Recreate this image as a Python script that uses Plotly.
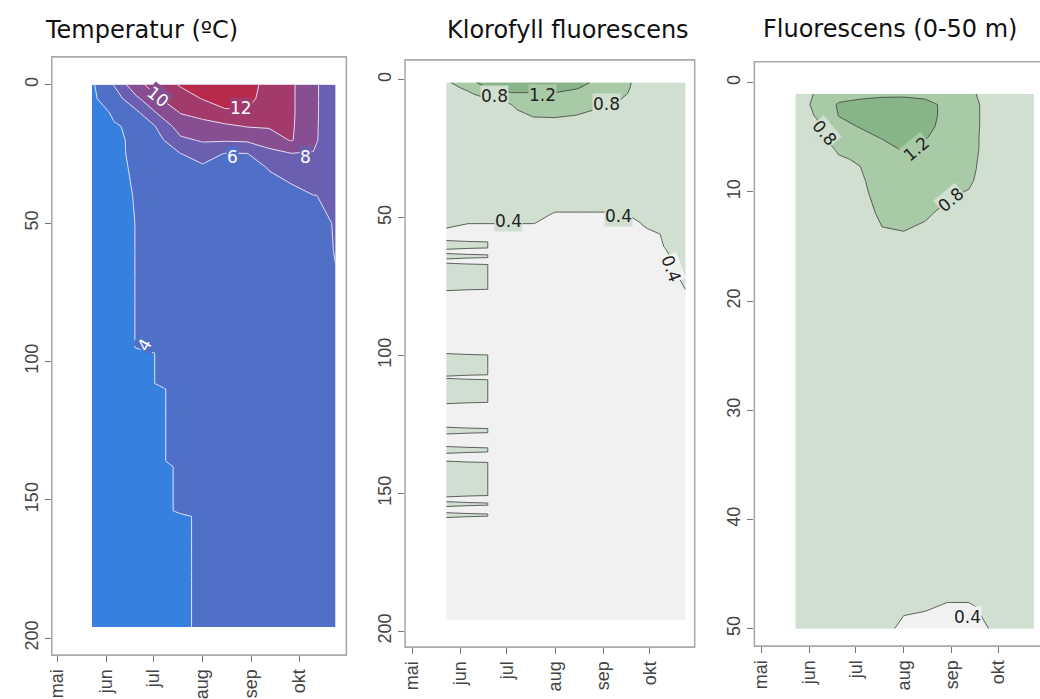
import datetime as dt
import plotly.graph_objects as go

# ---------------------------------------------------------------- data
sample_dates = ['2013-05-23', '2013-06-06', '2013-06-20', '2013-07-04',
                '2013-07-18', '2013-08-01', '2013-08-15', '2013-08-29',
                '2013-09-12', '2013-09-26', '2013-10-10', '2013-10-24']
month_ticks = ['2013-05-01', '2013-06-01', '2013-07-01',
               '2013-08-01', '2013-09-01', '2013-10-01']
month_labels = ['mai', 'jun', 'jul', 'aug', 'sep', 'okt']

# Temperature (deg C), one row per depth, one column per sampling date
temp_depths = [0, 5, 10, 15, 20, 25, 30, 40, 50, 60, 70, 80, 95, 97,
               108, 110, 136, 138, 154, 156, 175, 196]
temp_values = [
    [3.7, 6.1, 9.5, 10.8, 12.2, 12.5, 12.8, 12.6, 11.5, 10.3, 8.6, 6.1],
    [3.7, 5.0, 7.6, 9.9, 11.0, 12.1, 12.5, 12.4, 11.4, 10.3, 8.6, 6.1],
    [3.65, 4.1, 5.6, 8.3, 10.1, 10.6, 11.8, 11.9, 11.0, 10.3, 8.6, 6.1],
    [3.6, 3.95, 4.11, 6.3, 9.0, 9.4, 9.6, 10.1, 10.2, 10.25, 8.55, 6.1],
    [3.6, 3.9, 4.1, 5.5, 7.6, 8.2, 8.2, 8.3, 8.9, 10.15, 8.5, 6.1],
    [3.6, 3.9, 4.09, 5.0, 5.95, 6.8, 5.9, 5.9, 7.4, 7.9, 7.9, 6.1],
    [3.6, 3.88, 4.07, 4.6, 5.4, 5.7, 5.3, 5.2, 6.1, 6.7, 7.3, 6.1],
    [3.6, 3.85, 4.03, 4.3, 4.8, 5.0, 4.8, 4.8, 5.2, 5.5, 5.98, 6.1],
    [3.6, 3.85, 4.01, 4.2, 4.5, 4.6, 4.5, 4.5, 4.7, 5.0, 5.5, 6.1],
    [3.6, 3.85, 4.01, 4.15, 4.35, 4.4, 4.4, 4.4, 4.5, 4.7, 5.2, 6.08],
    [3.6, 3.85, 4.01, 4.12, 4.25, 4.3, 4.3, 4.3, 4.35, 4.5, 4.9, 5.9],
    [3.6, 3.85, 4.01, 4.1, 4.2, 4.25, 4.25, 4.25, 4.3, 4.4, 4.7, 5.6],
    [3.6, 3.85, 4.01, 4.05, 4.15, 4.2, 4.2, 4.2, 4.25, 4.3, 4.5, 5.2],
    [3.6, 3.85, 3.9, 4.02, 4.12, 4.2, 4.2, 4.2, 4.25, 4.3, 4.5, 5.15],
    [3.6, 3.85, 3.9, 4.02, 4.1, 4.15, 4.15, 4.15, 4.2, 4.25, 4.4, 4.9],
    [3.6, 3.85, 3.9, 3.95, 4.1, 4.15, 4.15, 4.15, 4.2, 4.25, 4.4, 4.9],
    [3.6, 3.85, 3.9, 3.95, 4.1, 4.1, 4.1, 4.1, 4.15, 4.2, 4.3, 4.6],
    [3.6, 3.85, 3.9, 3.9, 4.05, 4.1, 4.1, 4.1, 4.15, 4.2, 4.3, 4.6],
    [3.6, 3.85, 3.9, 3.9, 4.05, 4.08, 4.1, 4.1, 4.1, 4.15, 4.25, 4.5],
    [3.6, 3.85, 3.9, 3.85, 3.95, 4.05, 4.1, 4.1, 4.1, 4.15, 4.25, 4.5],
    [3.6, 3.85, 3.9, 3.85, 3.95, 4.05, 4.08, 4.08, 4.1, 4.12, 4.2, 4.4],
    [3.6, 3.85, 3.9, 3.85, 3.95, 4.05, 4.08, 4.08, 4.1, 4.12, 4.2, 4.35],
]

# Chlorophyll fluorescence, 0-200 m
klf_depths = [1, 3, 5, 8, 11, 14, 20, 30, 40, 47, 49, 52, 54, 56,
              58.3, 58.8, 61, 61.5, 63, 63.5, 64.5, 65, 66.5, 67, 76, 76.5,
              99.3, 99.8, 107, 107.5, 108.3, 108.8, 117, 117.5,
              126, 126.5, 128, 128.5, 133, 133.5, 135, 135.5,
              138.3, 138.8, 150.8, 151.3, 153, 153.5, 154.3, 154.8,
              157, 157.5, 158.3, 158.8, 196]
klf_values = [
    [0.72, 1.1, 1.35, 1.4, 1.4, 1.4, 1.35, 1.1, 0.9, 0.7, 0.6, 0.55],
    [0.70, 0.85, 1.25, 1.3, 1.3, 1.3, 1.22, 1.05, 0.88, 0.7, 0.6, 0.55],
    [0.68, 0.76, 0.95, 1.18, 1.18, 1.18, 1.1, 1.0, 0.86, 0.68, 0.6, 0.55],
    [0.65, 0.7, 0.75, 0.82, 1.0, 1.0, 0.98, 0.9, 0.78, 0.66, 0.58, 0.54],
    [0.62, 0.66, 0.7, 0.76, 0.9, 0.9, 0.86, 0.78, 0.72, 0.64, 0.57, 0.53],
    [0.6, 0.62, 0.65, 0.7, 0.78, 0.79, 0.76, 0.7, 0.68, 0.62, 0.56, 0.52],
    [0.56, 0.57, 0.58, 0.6, 0.62, 0.62, 0.6, 0.58, 0.58, 0.56, 0.54, 0.5],
    [0.5, 0.51, 0.52, 0.52, 0.53, 0.52, 0.5, 0.5, 0.5, 0.5, 0.5, 0.48],
    [0.46, 0.46, 0.47, 0.47, 0.47, 0.45, 0.45, 0.45, 0.45, 0.45, 0.47, 0.46],
    [0.44, 0.44, 0.44, 0.44, 0.44, 0.41, 0.41, 0.41, 0.41, 0.43, 0.45, 0.45],
    [0.43, 0.43, 0.43, 0.43, 0.43, 0.39, 0.39, 0.39, 0.39, 0.42, 0.44, 0.45],
    [0.41, 0.41, 0.41, 0.41, 0.41, 0.3, 0.3, 0.3, 0.3, 0.405, 0.43, 0.44],
    [0.399, 0.3, 0.3, 0.3, 0.3, 0.3, 0.3, 0.3, 0.3, 0.39, 0.43, 0.44],
    [0.399, 0.3, 0.3, 0.3, 0.3, 0.3, 0.3, 0.3, 0.3, 0.3, 0.42, 0.44],
    [0.399, 0.3, 0.3, 0.3, 0.3, 0.3, 0.3, 0.3, 0.3, 0.3, 0.41, 0.44],
    [0.45, 0.45, 0.395, 0.3, 0.3, 0.3, 0.3, 0.3, 0.3, 0.3, 0.408, 0.44],
    [0.45, 0.45, 0.395, 0.3, 0.3, 0.3, 0.3, 0.3, 0.3, 0.3, 0.398, 0.44],
    [0.399, 0.3, 0.3, 0.3, 0.3, 0.3, 0.3, 0.3, 0.3, 0.3, 0.396, 0.44],
    [0.399, 0.3, 0.3, 0.3, 0.3, 0.3, 0.3, 0.3, 0.3, 0.3, 0.392, 0.43],
    [0.45, 0.45, 0.395, 0.3, 0.3, 0.3, 0.3, 0.3, 0.3, 0.3, 0.39, 0.43],
    [0.45, 0.45, 0.395, 0.3, 0.3, 0.3, 0.3, 0.3, 0.3, 0.3, 0.388, 0.43],
    [0.399, 0.3, 0.3, 0.3, 0.3, 0.3, 0.3, 0.3, 0.3, 0.3, 0.387, 0.43],
    [0.399, 0.3, 0.3, 0.3, 0.3, 0.3, 0.3, 0.3, 0.3, 0.3, 0.385, 0.43],
    [0.45, 0.45, 0.395, 0.3, 0.3, 0.3, 0.3, 0.3, 0.3, 0.3, 0.383, 0.43],
    [0.45, 0.45, 0.395, 0.3, 0.3, 0.3, 0.3, 0.3, 0.3, 0.3, 0.3, 0.402],
    [0.399, 0.3, 0.3, 0.3, 0.3, 0.3, 0.3, 0.3, 0.3, 0.3, 0.3, 0.39],
    [0.399, 0.3, 0.3, 0.3, 0.3, 0.3, 0.3, 0.3, 0.3, 0.3, 0.3, 0.3],
    [0.45, 0.45, 0.395, 0.3, 0.3, 0.3, 0.3, 0.3, 0.3, 0.3, 0.3, 0.3],
    [0.45, 0.45, 0.395, 0.3, 0.3, 0.3, 0.3, 0.3, 0.3, 0.3, 0.3, 0.3],
    [0.399, 0.3, 0.3, 0.3, 0.3, 0.3, 0.3, 0.3, 0.3, 0.3, 0.3, 0.3],
    [0.399, 0.3, 0.3, 0.3, 0.3, 0.3, 0.3, 0.3, 0.3, 0.3, 0.3, 0.3],
    [0.45, 0.45, 0.395, 0.3, 0.3, 0.3, 0.3, 0.3, 0.3, 0.3, 0.3, 0.3],
    [0.45, 0.45, 0.395, 0.3, 0.3, 0.3, 0.3, 0.3, 0.3, 0.3, 0.3, 0.3],
    [0.399, 0.3, 0.3, 0.3, 0.3, 0.3, 0.3, 0.3, 0.3, 0.3, 0.3, 0.3],
    [0.399, 0.3, 0.3, 0.3, 0.3, 0.3, 0.3, 0.3, 0.3, 0.3, 0.3, 0.3],
    [0.45, 0.45, 0.395, 0.3, 0.3, 0.3, 0.3, 0.3, 0.3, 0.3, 0.3, 0.3],
    [0.45, 0.45, 0.395, 0.3, 0.3, 0.3, 0.3, 0.3, 0.3, 0.3, 0.3, 0.3],
    [0.399, 0.3, 0.3, 0.3, 0.3, 0.3, 0.3, 0.3, 0.3, 0.3, 0.3, 0.3],
    [0.399, 0.3, 0.3, 0.3, 0.3, 0.3, 0.3, 0.3, 0.3, 0.3, 0.3, 0.3],
    [0.45, 0.45, 0.395, 0.3, 0.3, 0.3, 0.3, 0.3, 0.3, 0.3, 0.3, 0.3],
    [0.45, 0.45, 0.395, 0.3, 0.3, 0.3, 0.3, 0.3, 0.3, 0.3, 0.3, 0.3],
    [0.399, 0.3, 0.3, 0.3, 0.3, 0.3, 0.3, 0.3, 0.3, 0.3, 0.3, 0.3],
    [0.399, 0.3, 0.3, 0.3, 0.3, 0.3, 0.3, 0.3, 0.3, 0.3, 0.3, 0.3],
    [0.45, 0.45, 0.395, 0.3, 0.3, 0.3, 0.3, 0.3, 0.3, 0.3, 0.3, 0.3],
    [0.45, 0.45, 0.395, 0.3, 0.3, 0.3, 0.3, 0.3, 0.3, 0.3, 0.3, 0.3],
    [0.399, 0.3, 0.3, 0.3, 0.3, 0.3, 0.3, 0.3, 0.3, 0.3, 0.3, 0.3],
    [0.399, 0.3, 0.3, 0.3, 0.3, 0.3, 0.3, 0.3, 0.3, 0.3, 0.3, 0.3],
    [0.45, 0.45, 0.395, 0.3, 0.3, 0.3, 0.3, 0.3, 0.3, 0.3, 0.3, 0.3],
    [0.45, 0.45, 0.395, 0.3, 0.3, 0.3, 0.3, 0.3, 0.3, 0.3, 0.3, 0.3],
    [0.399, 0.3, 0.3, 0.3, 0.3, 0.3, 0.3, 0.3, 0.3, 0.3, 0.3, 0.3],
    [0.399, 0.3, 0.3, 0.3, 0.3, 0.3, 0.3, 0.3, 0.3, 0.3, 0.3, 0.3],
    [0.45, 0.45, 0.395, 0.3, 0.3, 0.3, 0.3, 0.3, 0.3, 0.3, 0.3, 0.3],
    [0.45, 0.45, 0.395, 0.3, 0.3, 0.3, 0.3, 0.3, 0.3, 0.3, 0.3, 0.3],
    [0.399, 0.3, 0.3, 0.3, 0.3, 0.3, 0.3, 0.3, 0.3, 0.3, 0.3, 0.3],
    [0.399, 0.3, 0.3, 0.3, 0.3, 0.3, 0.3, 0.3, 0.3, 0.3, 0.3, 0.3],
]

# Fluorescence, upper 50 m
fl_depths = [1, 2, 3, 4, 5, 6, 7, 8, 9, 10, 12, 14, 20, 30, 40, 46, 48, 50]
fl_values = [
    [0.7, 0.82, 1.0, 1.05, 1.1, 1.1, 1.1, 1.0, 0.85, 0.7, 0.6, 0.55],
    [0.7, 0.85, 1.25, 1.35, 1.4, 1.42, 1.3, 1.12, 0.88, 0.72, 0.62, 0.56],
    [0.68, 0.82, 1.21, 1.32, 1.38, 1.4, 1.3, 1.12, 0.88, 0.72, 0.62, 0.56],
    [0.66, 0.76, 1.1, 1.22, 1.3, 1.36, 1.28, 1.1, 0.88, 0.72, 0.62, 0.56],
    [0.65, 0.72, 0.98, 1.1, 1.22, 1.3, 1.22, 1.05, 0.87, 0.72, 0.62, 0.56],
    [0.64, 0.7, 0.83, 0.95, 1.1, 1.24, 1.12, 1.0, 0.87, 0.72, 0.62, 0.56],
    [0.63, 0.68, 0.78, 0.82, 1.0, 1.15, 1.05, 0.95, 0.86, 0.71, 0.62, 0.56],
    [0.62, 0.66, 0.72, 0.79, 0.98, 1.05, 1.0, 0.9, 0.85, 0.7, 0.62, 0.56],
    [0.61, 0.64, 0.68, 0.75, 0.96, 1.0, 0.95, 0.86, 0.83, 0.69, 0.62, 0.56],
    [0.6, 0.62, 0.65, 0.72, 0.94, 0.95, 0.92, 0.83, 0.79, 0.68, 0.6, 0.55],
    [0.58, 0.6, 0.62, 0.66, 0.86, 0.88, 0.82, 0.76, 0.72, 0.66, 0.58, 0.54],
    [0.56, 0.58, 0.6, 0.62, 0.76, 0.78, 0.76, 0.7, 0.66, 0.62, 0.56, 0.52],
    [0.52, 0.54, 0.55, 0.56, 0.62, 0.62, 0.6, 0.58, 0.55, 0.54, 0.52, 0.5],
    [0.5, 0.5, 0.5, 0.5, 0.52, 0.52, 0.52, 0.5, 0.48, 0.48, 0.48, 0.48],
    [0.48, 0.48, 0.48, 0.48, 0.48, 0.48, 0.48, 0.46, 0.44, 0.44, 0.45, 0.46],
    [0.46, 0.46, 0.46, 0.46, 0.44, 0.43, 0.43, 0.42, 0.42, 0.43, 0.44, 0.45],
    [0.45, 0.45, 0.45, 0.45, 0.43, 0.41, 0.405, 0.395, 0.395, 0.41, 0.43, 0.44],
    [0.45, 0.45, 0.45, 0.45, 0.42, 0.385, 0.38, 0.37, 0.38, 0.402, 0.43, 0.44],
]

panel_titles = ['Temperatur (\u00baC)', 'Klorofyll fluorescens', 'Fluorescens (0-50 m)']

# ---------------------------------------------------------------- styling
W, H = 1040, 699
temp_colors = ['#3680e0', '#5070c8', '#6a5fb0', '#874e92', '#a23a6c', '#b9294a']
fl_colors = ['#f1f1f1', '#d0dfd0', '#a9caa6', '#88b587']


def stepped_scale(colors):
    n = len(colors)
    scale = []
    for i, c in enumerate(colors):
        scale.append([i / n, c])
        scale.append([(i + 1) / n, c])
    return scale


def date_at(day):
    base = dt.datetime(2013, 5, 1)
    return (base + dt.timedelta(days=day)).strftime('%Y-%m-%d %H:%M:%S')


def px_x(px):
    return px / W


def px_y(py):
    return (H - py) / H


fig = go.Figure()

fig.add_trace(go.Contour(
    x=sample_dates, y=temp_depths, z=temp_values,
    xaxis='x', yaxis='y',
    contours=dict(start=4, end=12, size=2, coloring='fill', showlines=True),
    colorscale=stepped_scale(temp_colors), zmin=2, zmax=14,
    line=dict(color='rgba(235,235,250,0.95)', width=1, smoothing=0),
    showscale=False, hoverinfo='skip'))

fig.add_trace(go.Contour(
    x=sample_dates, y=klf_depths, z=klf_values,
    xaxis='x2', yaxis='y2',
    contours=dict(start=0.4, end=1.2, size=0.4, coloring='fill', showlines=True),
    colorscale=stepped_scale(fl_colors), zmin=0, zmax=1.6,
    line=dict(color='#3a3a3a', width=0.8, smoothing=0),
    showscale=False, hoverinfo='skip'))

fig.add_trace(go.Contour(
    x=sample_dates, y=fl_depths, z=fl_values,
    xaxis='x3', yaxis='y3',
    contours=dict(start=0.4, end=1.2, size=0.4, coloring='fill', showlines=True),
    colorscale=stepped_scale(fl_colors), zmin=0, zmax=1.6,
    line=dict(color='#3a3a3a', width=0.8, smoothing=0),
    showscale=False, hoverinfo='skip'))

# panel frames in pixels: left, top, right, bottom; x origin (1 May) and px/day; depth scale
panels = [
    dict(box=(47, 57, 343, 657), x0=52.5, xs=1.588, y0=85, ys=2.775,
         yticks=[0, 50, 100, 150, 200]),
    dict(box=(402, 60, 693, 649), x0=409, xs=1.562, y0=80, ys=2.765,
         yticks=[0, 50, 100, 150, 200]),
    dict(box=(753, 62, 1040, 648), x0=760, xs=1.556, y0=83, ys=10.95,
         yticks=[0, 10, 20, 30, 40, 50]),
]

tick_font = dict(family='Liberation Sans, Arial, sans-serif', size=18, color='#444')
layout = dict(width=W, height=H, margin=dict(l=0, r=0, t=0, b=0),
              paper_bgcolor='white', plot_bgcolor='white', showlegend=False)
shapes = []
for i, p in enumerate(panels):
    l, t, r, b = p['box']
    sfx = '' if i == 0 else str(i + 1)
    layout['xaxis' + sfx] = dict(
        domain=[px_x(l), min(px_x(r), 1.0)], anchor='y' + sfx, type='date',
        range=[date_at((l - p['x0']) / p['xs']), date_at((r - p['x0']) / p['xs'])],
        tickvals=month_ticks, ticktext=month_labels, tickangle=-90,
        ticks='outside', ticklen=6, tickcolor='#777', tickfont=tick_font,
        showgrid=False, zeroline=False, showline=False)
    layout['yaxis' + sfx] = dict(
        domain=[px_y(b), px_y(t)], anchor='x' + sfx,
        range=[(b - p['y0']) / p['ys'], (t - p['y0']) / p['ys']],
        tickvals=p['yticks'], tickangle=-90,
        ticks='outside', ticklen=6, tickcolor='#777', tickfont=tick_font,
        showgrid=False, zeroline=False, showline=False)
    shapes.append(dict(type='rect', xref='paper', yref='paper',
                       x0=px_x(l), x1=px_x(r + 8 if i == 2 else r),
                       y0=px_y(b), y1=px_y(t),
                       line=dict(color='#a9a9a9', width=1.6), layer='above'))
layout['shapes'] = shapes

annotations = []
title_pos = [(137, 30), (566, 30), (889, 29)]
for text, (cx, cy) in zip(panel_titles, title_pos):
    annotations.append(dict(text=text, xref='paper', yref='paper',
                            x=px_x(cx), y=px_y(cy), showarrow=False,
                            xanchor='center', yanchor='middle',
                            font=dict(family='DejaVu Sans, sans-serif', size=24, color='#111')))

# contour level labels: (text, date, depth, angle, axis suffix, font colour, background)
level_labels = [
    ('10', '2013-07-04', 4.5, 38, '', 'white', '#874e92'),
    ('12', '2013-08-25', 8.5, 0, '', 'white', '#a23a6c'),
    ('6', '2013-08-20', 26.0, 0, '', 'white', '#5070c8'),
    ('8', '2013-10-05', 26.0, 0, '', 'white', '#6a5fb0'),
    ('4', '2013-06-25', 94.0, -60, '', 'white', '#5070c8'),
    ('0.8', '2013-06-23', 6.0, 0, '2', '#222', '#d0dfd0'),
    ('1.2', '2013-07-24', 5.4, 0, '2', '#222', '#a9caa6'),
    ('0.8', '2013-09-03', 8.7, 0, '2', '#222', '#d0dfd0'),
    ('0.4', '2013-07-02', 51.4, 0, '2', '#222', '#d0dfd0'),
    ('0.4', '2013-09-11', 49.3, 0, '2', '#222', '#d0dfd0'),
    ('0.4', '2013-10-15', 68.5, 70, '2', '#222', '#f1f1f1'),
    ('0.8', '2013-06-11', 4.6, 50, '3', '#222', '#d0dfd0'),
    ('1.2', '2013-08-09', 6.1, -40, '3', '#222', '#a9caa6'),
    ('0.8', '2013-08-31', 10.7, -40, '3', '#222', '#d0dfd0'),
    ('0.4', '2013-09-11', 48.9, 0, '3', '#222', '#f1f1f1'),
]
for text, day, depth, ang, sfx, col, bg in level_labels:
    annotations.append(dict(text=text, xref='x' + sfx, yref='y' + sfx,
                            x=day, y=depth, showarrow=False, textangle=ang,
                            bgcolor=bg, borderpad=0,
                            font=dict(family='DejaVu Sans, sans-serif', size=17, color=col)))
layout['annotations'] = annotations

fig.update_layout(**layout)
fig.write_html('out.html')
